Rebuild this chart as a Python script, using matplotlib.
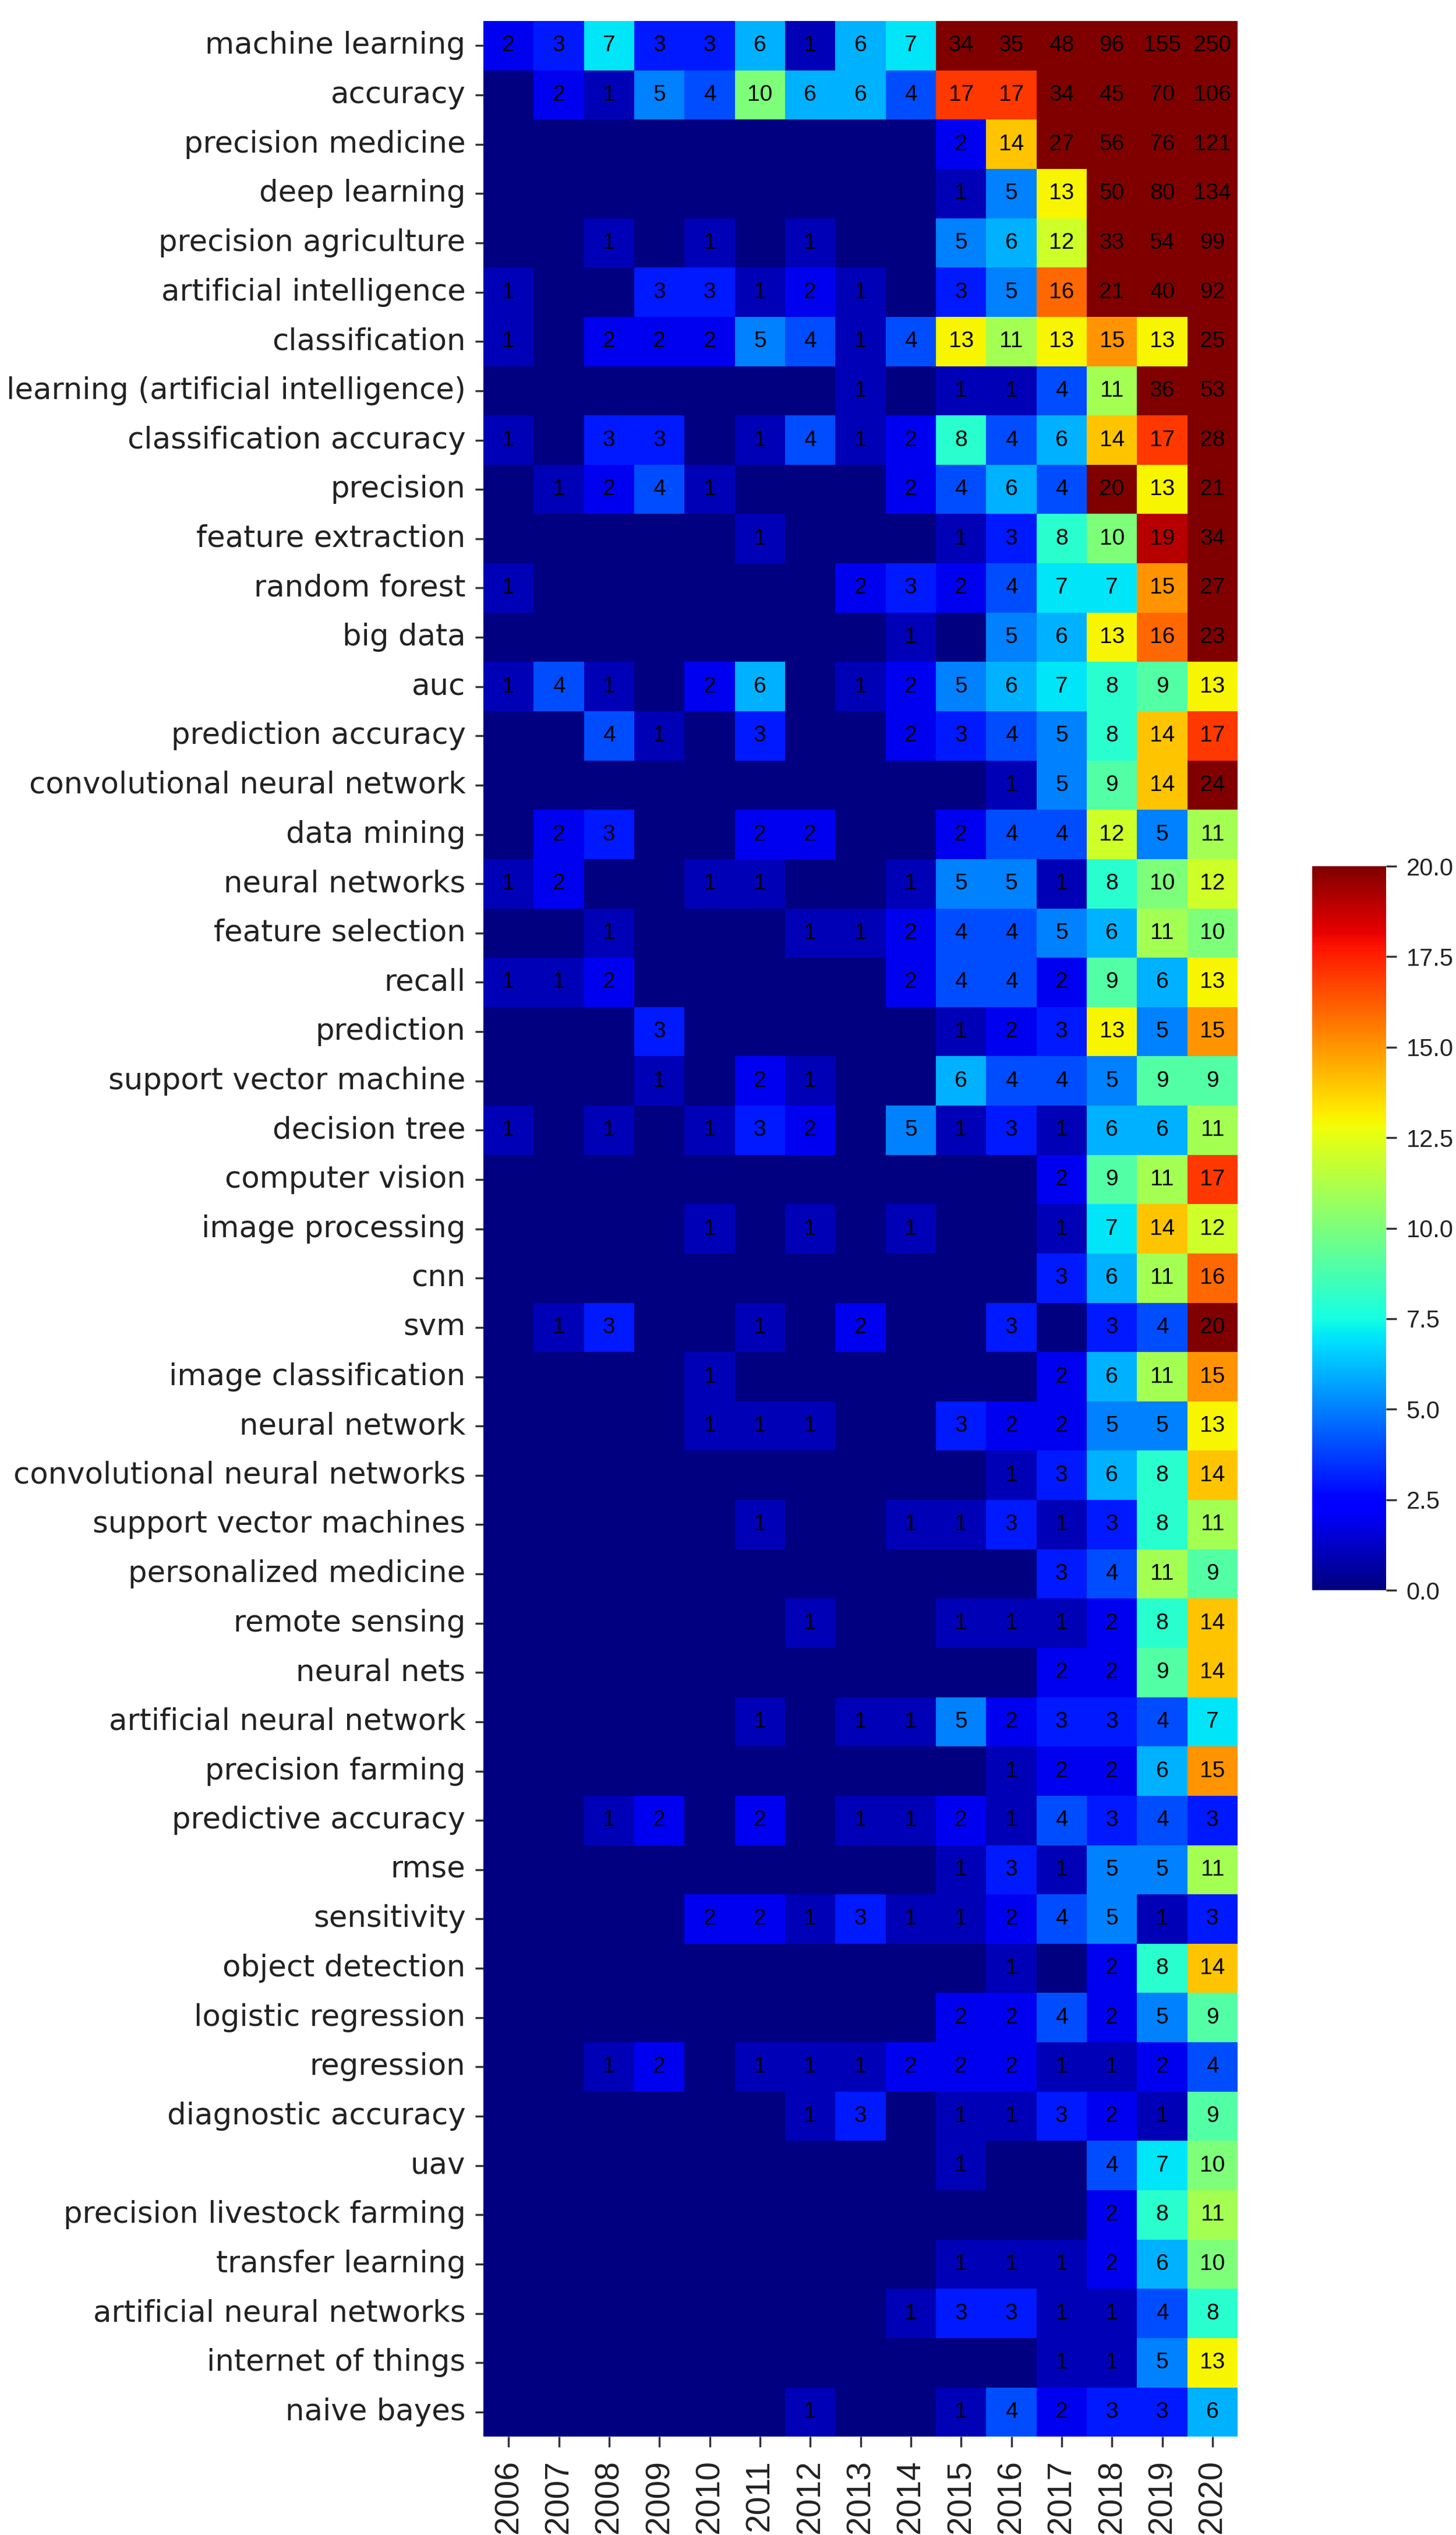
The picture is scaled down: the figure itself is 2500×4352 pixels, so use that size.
import numpy as np
import pandas as pd
import matplotlib
matplotlib.use('Agg')
import matplotlib.pyplot as plt
import seaborn as sns

# ----------------------------------------------------------------------
# 키워드별 연도별 출현 빈도 (2006-2020)
# ----------------------------------------------------------------------
years = [2006, 2007, 2008, 2009, 2010, 2011, 2012, 2013, 2014,
         2015, 2016, 2017, 2018, 2019, 2020]

keywords = [
    'machine learning', 'accuracy', 'precision medicine', 'deep learning',
    'precision agriculture', 'artificial intelligence', 'classification',
    'learning (artificial intelligence)', 'classification accuracy',
    'precision', 'feature extraction', 'random forest', 'big data', 'auc',
    'prediction accuracy', 'convolutional neural network', 'data mining',
    'neural networks', 'feature selection', 'recall', 'prediction',
    'support vector machine', 'decision tree', 'computer vision',
    'image processing', 'cnn', 'svm', 'image classification',
    'neural network', 'convolutional neural networks',
    'support vector machines', 'personalized medicine', 'remote sensing',
    'neural nets', 'artificial neural network', 'precision farming',
    'predictive accuracy', 'rmse', 'sensitivity', 'object detection',
    'logistic regression', 'regression', 'diagnostic accuracy', 'uav',
    'precision livestock farming', 'transfer learning',
    'artificial neural networks', 'internet of things', 'naive bayes',
]

counts = [
    [2, 3, 7, 3, 3, 6, 1, 6, 7, 34, 35, 48, 96, 155, 250],
    [0, 2, 1, 5, 4, 10, 6, 6, 4, 17, 17, 34, 45, 70, 106],
    [0, 0, 0, 0, 0, 0, 0, 0, 0, 2, 14, 27, 56, 76, 121],
    [0, 0, 0, 0, 0, 0, 0, 0, 0, 1, 5, 13, 50, 80, 134],
    [0, 0, 1, 0, 1, 0, 1, 0, 0, 5, 6, 12, 33, 54, 99],
    [1, 0, 0, 3, 3, 1, 2, 1, 0, 3, 5, 16, 21, 40, 92],
    [1, 0, 2, 2, 2, 5, 4, 1, 4, 13, 11, 13, 15, 13, 25],
    [0, 0, 0, 0, 0, 0, 0, 1, 0, 1, 1, 4, 11, 36, 53],
    [1, 0, 3, 3, 0, 1, 4, 1, 2, 8, 4, 6, 14, 17, 28],
    [0, 1, 2, 4, 1, 0, 0, 0, 2, 4, 6, 4, 20, 13, 21],
    [0, 0, 0, 0, 0, 1, 0, 0, 0, 1, 3, 8, 10, 19, 34],
    [1, 0, 0, 0, 0, 0, 0, 2, 3, 2, 4, 7, 7, 15, 27],
    [0, 0, 0, 0, 0, 0, 0, 0, 1, 0, 5, 6, 13, 16, 23],
    [1, 4, 1, 0, 2, 6, 0, 1, 2, 5, 6, 7, 8, 9, 13],
    [0, 0, 4, 1, 0, 3, 0, 0, 2, 3, 4, 5, 8, 14, 17],
    [0, 0, 0, 0, 0, 0, 0, 0, 0, 0, 1, 5, 9, 14, 24],
    [0, 2, 3, 0, 0, 2, 2, 0, 0, 2, 4, 4, 12, 5, 11],
    [1, 2, 0, 0, 1, 1, 0, 0, 1, 5, 5, 1, 8, 10, 12],
    [0, 0, 1, 0, 0, 0, 1, 1, 2, 4, 4, 5, 6, 11, 10],
    [1, 1, 2, 0, 0, 0, 0, 0, 2, 4, 4, 2, 9, 6, 13],
    [0, 0, 0, 3, 0, 0, 0, 0, 0, 1, 2, 3, 13, 5, 15],
    [0, 0, 0, 1, 0, 2, 1, 0, 0, 6, 4, 4, 5, 9, 9],
    [1, 0, 1, 0, 1, 3, 2, 0, 5, 1, 3, 1, 6, 6, 11],
    [0, 0, 0, 0, 0, 0, 0, 0, 0, 0, 0, 2, 9, 11, 17],
    [0, 0, 0, 0, 1, 0, 1, 0, 1, 0, 0, 1, 7, 14, 12],
    [0, 0, 0, 0, 0, 0, 0, 0, 0, 0, 0, 3, 6, 11, 16],
    [0, 1, 3, 0, 0, 1, 0, 2, 0, 0, 3, 0, 3, 4, 20],
    [0, 0, 0, 0, 1, 0, 0, 0, 0, 0, 0, 2, 6, 11, 15],
    [0, 0, 0, 0, 1, 1, 1, 0, 0, 3, 2, 2, 5, 5, 13],
    [0, 0, 0, 0, 0, 0, 0, 0, 0, 0, 1, 3, 6, 8, 14],
    [0, 0, 0, 0, 0, 1, 0, 0, 1, 1, 3, 1, 3, 8, 11],
    [0, 0, 0, 0, 0, 0, 0, 0, 0, 0, 0, 3, 4, 11, 9],
    [0, 0, 0, 0, 0, 0, 1, 0, 0, 1, 1, 1, 2, 8, 14],
    [0, 0, 0, 0, 0, 0, 0, 0, 0, 0, 0, 2, 2, 9, 14],
    [0, 0, 0, 0, 0, 1, 0, 1, 1, 5, 2, 3, 3, 4, 7],
    [0, 0, 0, 0, 0, 0, 0, 0, 0, 0, 1, 2, 2, 6, 15],
    [0, 0, 1, 2, 0, 2, 0, 1, 1, 2, 1, 4, 3, 4, 3],
    [0, 0, 0, 0, 0, 0, 0, 0, 0, 1, 3, 1, 5, 5, 11],
    [0, 0, 0, 0, 2, 2, 1, 3, 1, 1, 2, 4, 5, 1, 3],
    [0, 0, 0, 0, 0, 0, 0, 0, 0, 0, 1, 0, 2, 8, 14],
    [0, 0, 0, 0, 0, 0, 0, 0, 0, 2, 2, 4, 2, 5, 9],
    [0, 0, 1, 2, 0, 1, 1, 1, 2, 2, 2, 1, 1, 2, 4],
    [0, 0, 0, 0, 0, 0, 1, 3, 0, 1, 1, 3, 2, 1, 9],
    [0, 0, 0, 0, 0, 0, 0, 0, 0, 1, 0, 0, 4, 7, 10],
    [0, 0, 0, 0, 0, 0, 0, 0, 0, 0, 0, 0, 2, 8, 11],
    [0, 0, 0, 0, 0, 0, 0, 0, 0, 1, 1, 1, 2, 6, 10],
    [0, 0, 0, 0, 0, 0, 0, 0, 1, 3, 3, 1, 1, 4, 8],
    [0, 0, 0, 0, 0, 0, 0, 0, 0, 0, 0, 1, 1, 5, 13],
    [0, 0, 0, 0, 0, 0, 1, 0, 0, 1, 4, 2, 3, 3, 6],
]

df = pd.DataFrame(counts, index=keywords, columns=years)

# 0인 칸은 숫자 표시 안 함
annot_labels = df.map(lambda v: '' if v == 0 else str(v)).values

# ----------------------------------------------------------------------
# 시각화: 히트맵
# ----------------------------------------------------------------------
fig = plt.figure(figsize=(25, 43.52), dpi=100)
ax = fig.add_axes([0.332, 0.0388, 0.518, 0.9529])
cax = fig.add_axes([0.9012, 0.3727, 0.0508, 0.2856])

sns.heatmap(df, ax=ax, cbar_ax=cax, cmap='jet', vmin=0, vmax=20,
            annot=annot_labels, fmt='',
            annot_kws={'color': 'black', 'fontsize': 28,
                       'family': 'Liberation Sans'},
            xticklabels=years, yticklabels=keywords)

ax.set_xlabel('')
ax.set_ylabel('')
ax.tick_params(axis='y', labelsize=37, length=10, width=2.5, pad=12,
               colors='#333333', labelcolor='#222222', labelrotation=0)
ax.tick_params(axis='x', labelsize=41, length=13, width=2.5, pad=16,
               colors='#333333', labelcolor='#222222', labelrotation=90)
for lbl in ax.get_yticklabels():
    lbl.set_family('DejaVu Sans')
for lbl in ax.get_xticklabels():
    lbl.set_family('Liberation Sans')

cax.tick_params(labelsize=30, length=13, width=2.5, pad=12,
                colors='#333333', labelcolor='#222222')
cax.set_yticks([0, 2.5, 5, 7.5, 10, 12.5, 15, 17.5, 20])
cax.set_yticklabels(['0.0', '2.5', '5.0', '7.5', '10.0', '12.5', '15.0',
                     '17.5', '20.0'], family='Liberation Sans')
for sp in cax.spines.values():
    sp.set_visible(False)

fig.savefig('out.png', dpi=100, facecolor='white')
